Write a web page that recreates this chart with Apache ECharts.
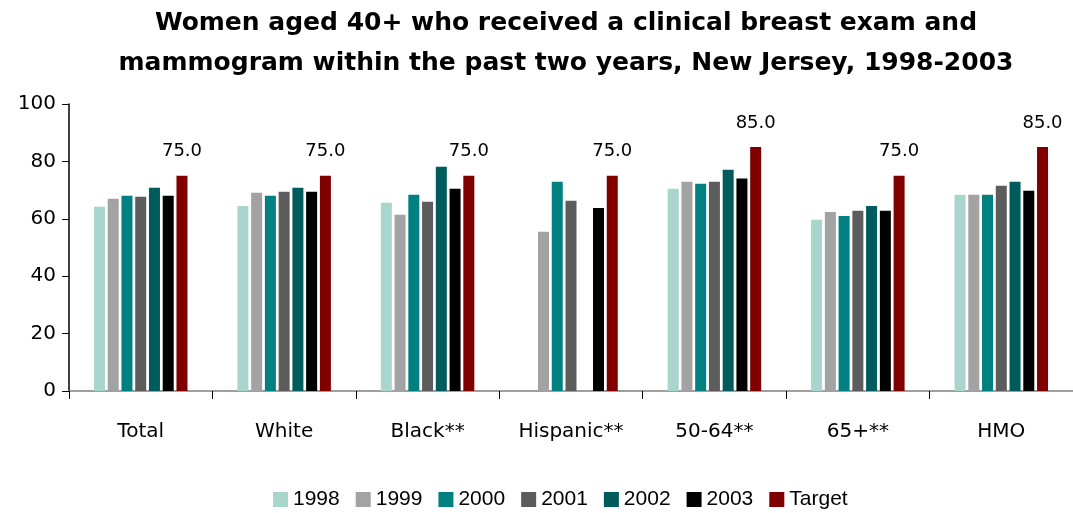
<!DOCTYPE html>
<html><head><meta charset="utf-8">
<script src="https://cdn.jsdelivr.net/npm/echarts@6/dist/echarts.min.js"></script>
<style>html,body{margin:0;padding:0;background:#fff}#c{width:1073px;height:513px}</style>
</head><body><div id="c"></div>
<script>
const categories = ['Total','White','Black**','Hispanic**','50-64**','65+**','HMO'];
const seriesNames = ['1998','1999','2000','2001','2002','2003','Target'];
const v1998 = [64.2, 64.5, 65.6, null, 70.5, 59.7, 68.4];
const v1999 = [67.0, 69.1, 61.4, 55.5, 72.9, 62.4, 68.4];
const v2000 = [68.0, 68.0, 68.4, 72.9, 72.2, 61.0, 68.4];
const v2001 = [67.7, 69.4, 65.9, 66.3, 72.9, 62.8, 71.5];
const v2002 = [70.8, 70.8, 78.1, null, 77.1, 64.5, 72.9];
const v2003 = [68.0, 69.4, 70.5, 63.8, 74.0, 62.8, 69.8];
const vTarget = [75.0, 75.0, 75.0, 75.0, 85.0, 75.0, 85.0];
const yTicks = [0,20,40,60,80,100];
const colors = ['#a8d5cc','#a3a3a3','#008080','#5c5c5c','#005c5c','#000000','#800000'];
const values = [v1998,v1999,v2000,v2001,v2002,v2003,vTarget];
const font = 'Tahoma, "DejaVu Sans", sans-serif';
const chart = echarts.init(document.getElementById('c'));
chart.setOption({
  animation:false,
  color: colors,
  title:{
    text:'Women aged 40+ who received a clinical breast exam and\nmammogram within the past two years, New Jersey, 1998-2003',
    left:561, top:-2, textAlign:'center',
    textStyle:{fontFamily:'"DejaVu Sans", sans-serif', fontWeight:'bold', fontSize:25, lineHeight:40, color:'#000'}
  },
  legend:{
    data: seriesNames, top:484, left:268, itemWidth:15, itemHeight:15, itemGap:16,
    icon:'rect',
    textStyle:{fontFamily:'"Liberation Sans", Arial, sans-serif', fontSize:21, color:'#000', padding:[0,0,0,0]}
  },
  grid:{left:69, top:104, width:1005, bottom:122, containLabel:false},
  xAxis:{
    type:'category', data:categories,
    axisLine:{lineStyle:{color:'#808080', width:1.5}},
    axisTick:{show:true, inside:false, length:8, lineStyle:{color:'#000'}},
    axisLabel:{fontFamily:font, fontSize:20, color:'#000', margin:31}
  },
  yAxis:{
    type:'value', min:0, max:100, interval:20,
    axisLine:{show:true, lineStyle:{color:'#000', width:1.5}},
    axisTick:{show:true, length:7, lineStyle:{color:'#000'}},
    splitLine:{show:false},
    axisLabel:{fontFamily:font, fontSize:20, color:'#000', margin:13,
      formatter: v => yTicks.includes(v) ? String(v) : ''}
  },
  series: seriesNames.map((n,i)=>({
    name:n, type:'bar', data: values[i], barWidth:11, barGap:'25%', barCategoryGap:'35%',
    label: i===6 ? {show:true, position:'top', distance:15, formatter: p => p.value.toFixed(1),
      fontFamily:font, fontSize:18, color:'#000'} : {show:false}
  }))
});
</script></body></html>
